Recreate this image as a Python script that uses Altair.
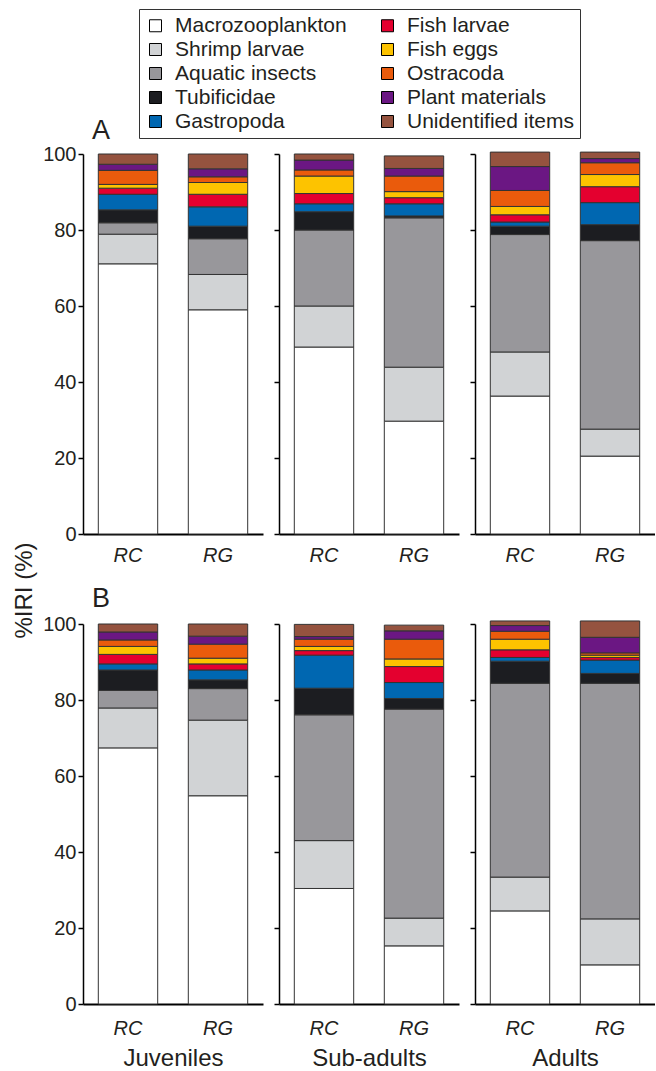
import altair as alt
import pandas as pd

categories = ["Macrozooplankton", "Shrimp larvae", "Aquatic insects", "Tubificidae",
              "Gastropoda", "Fish larvae", "Fish eggs", "Ostracoda",
              "Plant materials", "Unidentified items"]
colors = ["#ffffff", "#d1d3d5", "#98979b", "#1c1d21", "#0067b1",
          "#e4002f", "#fdc300", "#ea5b0c", "#6b1783", "#95533f"]
stages = ["Juveniles", "Sub-adults", "Adults"]
sites = ["RC", "RG"]
y_ticks = [0, 20, 40, 60, 80, 100]

# %IRI values, from the bottom of each bar upwards, in the order of `categories`
a_juveniles_rc = [71.1, 7.8, 3.0, 3.4, 4.1, 1.6, 1.0, 3.7, 1.6, 2.7]
a_juveniles_rg = [59.0, 9.3, 9.4, 3.3, 5.1, 3.3, 3.1, 1.5, 2.1, 3.9]
a_subadults_rc = [49.2, 10.8, 20.0, 4.8, 2.1, 2.7, 4.6, 1.6, 2.6, 1.6]
a_subadults_rg = [29.7, 14.2, 39.3, 0.5, 3.2, 1.6, 1.6, 4.1, 2.0, 3.3]
a_adults_rc = [36.3, 11.6, 30.9, 2.2, 1.1, 1.9, 2.2, 4.2, 6.3, 3.8]
a_adults_rg = [20.5, 7.1, 49.6, 4.2, 5.8, 4.2, 3.2, 3.1, 1.1, 1.7]
b_juveniles_rc = [67.4, 10.5, 4.6, 5.4, 1.6, 2.5, 2.1, 1.7, 2.1, 2.1]
b_juveniles_rg = [54.8, 19.9, 8.3, 2.3, 2.6, 1.6, 1.5, 3.7, 2.1, 3.2]
b_subadults_rc = [30.4, 12.6, 33.1, 7.0, 8.7, 1.2, 1.1, 1.9, 0.7, 3.2]
b_subadults_rg = [15.3, 7.3, 55.0, 2.8, 4.2, 4.2, 2.0, 5.2, 2.2, 1.5]
b_adults_rc = [24.5, 8.9, 51.0, 5.8, 1.0, 2.0, 2.8, 2.1, 1.5, 1.2]
b_adults_rg = [10.3, 12.1, 62.0, 2.6, 3.5, 0.7, 0.6, 0.6, 4.1, 4.3]

series = {
    ("A", "Juveniles", "RC"): a_juveniles_rc,
    ("A", "Juveniles", "RG"): a_juveniles_rg,
    ("A", "Sub-adults", "RC"): a_subadults_rc,
    ("A", "Sub-adults", "RG"): a_subadults_rg,
    ("A", "Adults", "RC"): a_adults_rc,
    ("A", "Adults", "RG"): a_adults_rg,
    ("B", "Juveniles", "RC"): b_juveniles_rc,
    ("B", "Juveniles", "RG"): b_juveniles_rg,
    ("B", "Sub-adults", "RC"): b_subadults_rc,
    ("B", "Sub-adults", "RG"): b_subadults_rg,
    ("B", "Adults", "RC"): b_adults_rc,
    ("B", "Adults", "RG"): b_adults_rg,
}

records = []
for (row, stage, site), vals in series.items():
    for i, (cat, v) in enumerate(zip(categories, vals)):
        records.append({"row": row, "stage": stage, "site": site,
                        "category": cat, "value": v, "order": i})
df = pd.DataFrame(records)

FONT = "Liberation Sans"
TXT = "#231f20"

legend = alt.Legend(
    orient="none", legendX=56, legendY=-145, columns=2, title=None,
    symbolType="square", symbolSize=144, symbolStrokeColor="black",
    symbolStrokeWidth=1, labelFontSize=21, labelFont=FONT, labelColor=TXT,
    labelLimit=220, strokeColor="#333333", fillColor="white", padding=6,
    columnPadding=30, rowPadding=2, labelOffset=9,
)


def panel(row, si, stage):
    data = df[(df.row == row) & (df.stage == stage)]
    first = si == 0
    ykw = dict(values=y_ticks, labels=first, domainColor="black", domainWidth=1.5,
               tickColor="black", tickWidth=1.5, tickSize=5, labelFontSize=20,
               labelPadding=2, labelColor=TXT, labelFont=FONT, grid=False)
    if first and row == "A":
        ykw.update(title="%IRI (%)", titleFontSize=24, titleFont=FONT,
                   titleFontWeight="normal", titleColor=TXT, titleX=-47,
                   titleY=436, titleAngle=270, titleAlign="center",
                   titleBaseline="bottom")
    else:
        ykw.update(title="")
    xkw = dict(domainColor="black", domainWidth=2, ticks=False, tickSize=0,
               labelAngle=0, labelFontSize=20, labelFontStyle="italic",
               labelPadding=11, labelColor=TXT, labelFont=FONT, grid=False)
    if row == "B":
        xkw.update(labelPadding=14, title=stage, titleFontSize=24, titleFont=FONT,
                   titleFontWeight="normal", titleColor=TXT, titlePadding=8)
    else:
        xkw.update(title="")
    ch = alt.Chart(data).mark_bar(stroke="#333333", strokeWidth=1).encode(
        x=alt.X("site:N", sort=sites,
                scale=alt.Scale(paddingInner=0.34, paddingOuter=0.17),
                axis=alt.Axis(**xkw)),
        y=alt.Y("value:Q", stack="zero",
                scale=alt.Scale(domain=[0, 100], nice=False),
                axis=alt.Axis(**ykw)),
        color=alt.Color("category:N",
                        scale=alt.Scale(domain=categories, range=colors),
                        legend=legend),
        order=alt.Order("order:Q", sort="ascending"),
    ).properties(width=180, height=380,
                 view=alt.ViewBackground(stroke="transparent", strokeWidth=0))
    if first:
        ch = ch.properties(title=alt.TitleParams(
            row, anchor="start", frame="group", fontSize=27, font=FONT,
            fontWeight="normal", color=TXT, dx=9, dy=14 if row == "A" else 12,
            offset=13))
    return ch


panels = [panel(r, i, s) for r in ["A", "B"] for i, s in enumerate(stages)]

chart = alt.concat(*panels, columns=3, spacing={"row": 90, "column": 16},
                   bounds="flush").properties(
    padding={"left": 12, "top": 8, "right": 0, "bottom": 0},
    background="white",
).configure_view(stroke="transparent", strokeWidth=0).configure(font=FONT)

chart.save("out.html", embed_options={"renderer": "svg", "actions": False})
